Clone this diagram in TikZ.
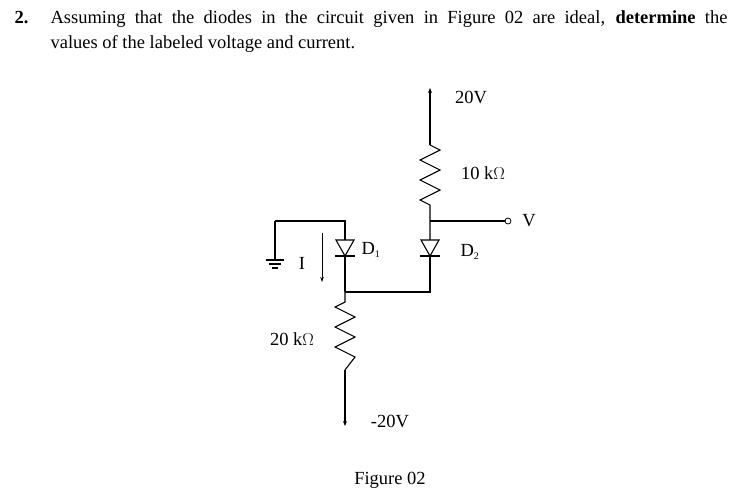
\documentclass[tikz,border=0pt]{standalone}
\usepackage{fontspec}
\setmainfont{Liberation Serif}
\usetikzlibrary{arrows.meta}
\begin{document}
\begin{tikzpicture}[x=1pt,y=-1pt,line width=1.1pt,
  lbl/.style={font=\fontsize{18.5}{22}\selectfont,inner sep=0pt},
  supply/.style={-{Stealth[length=5pt,width=4pt]}}]
\useasboundingbox (0,0) rectangle (738,499);
% title
\node[lbl,anchor=base west] (num) at (14,23) {\textbf{2.}};
\node[lbl,anchor=base west] (t1) at (50,23) {\hbox to 677pt{Assuming that the diodes in the circuit given in Figure 02 are ideal, \textbf{determine} the}};
\node[lbl,anchor=base west] (t2) at (50,48) {values of the labeled voltage and current.};
% coordinates
\coordinate (top) at (430,88);
\coordinate (r1t) at (430,145);
\coordinate (r1b) at (430,205);
\coordinate (nv) at (430,221);
\coordinate (d2t) at (430,240);
\coordinate (nb2) at (430,292);
\coordinate (nb1) at (345,292);
\coordinate (d1t) at (345,240);
\coordinate (tl1) at (345,221);
\coordinate (tl0) at (275,221);
\coordinate (gnd) at (275,260);
\coordinate (r2t) at (345,302);
\coordinate (r2b) at (345,370);
\coordinate (bot) at (345,426);
% 20V supply and 10k
\draw[supply] (r1t) -- (top);
\draw (r1t) -- ++(10,5) -- ++(-20,10) -- ++(20,10) -- ++(-20,10) -- ++(20,10) -- ++(-20,10) -- (r1b) -- (nv) -- (d2t);
\draw (nv) -- (505,221);
\node[circle,draw,inner sep=0pt,minimum size=6pt,line width=0.8pt] (vo) at (508,221) {};
\node[lbl] (vl) at (529,221) {V};
\node[lbl] (l20) at (471,97) {20V};
\node[lbl] (l10) at (483,173) {10 k$\Omega$};
% D2
\draw (d2t) -- ++(-9,0) -- ++(9,16) -- ++(9,-16) -- cycle;
\draw (420,256) -- (440,256);
\draw (430,256) -- (nb2) -- (nb1);
\node[lbl] (ld2) at (470,252) {D\textsubscript{\fontsize{10}{10}\selectfont 2}};
% D1
\draw (tl0) -- (tl1) -- (d1t);
\draw (d1t) -- ++(-9,0) -- ++(9,16) -- ++(9,-16) -- cycle;
\draw (335,256) -- (355,256);
\draw (345,256) -- (nb1);
\node[lbl] (ld1) at (371,250) {D\textsubscript{\fontsize{10}{10}\selectfont 1}};
% ground
\draw (tl0) -- (gnd);
\draw (266,260) -- (284,260) (269,264) -- (281,264) (272,268) -- (278,268);
% I arrow
\draw[-{Stealth[length=5pt,width=3.5pt]},line width=0.8pt] (322,233) -- (322,282);
\node[lbl] (li) at (302,263) {I};
% 20k
\draw (nb1) -- (r2t) -- ++(-10,5) -- ++(20,10) -- ++(-20,10) -- ++(20,10) -- ++(-20,10) -- ++(20,10) -- (r2b);
\draw[supply] (r2b) -- (bot);
\node[lbl] (l20k) at (292,339) {20 k$\Omega$};
\node[lbl] (lm20) at (390,421) {-20V};
\node[lbl] (fig) at (390,480) {Figure 02};
\end{tikzpicture}
\end{document}
